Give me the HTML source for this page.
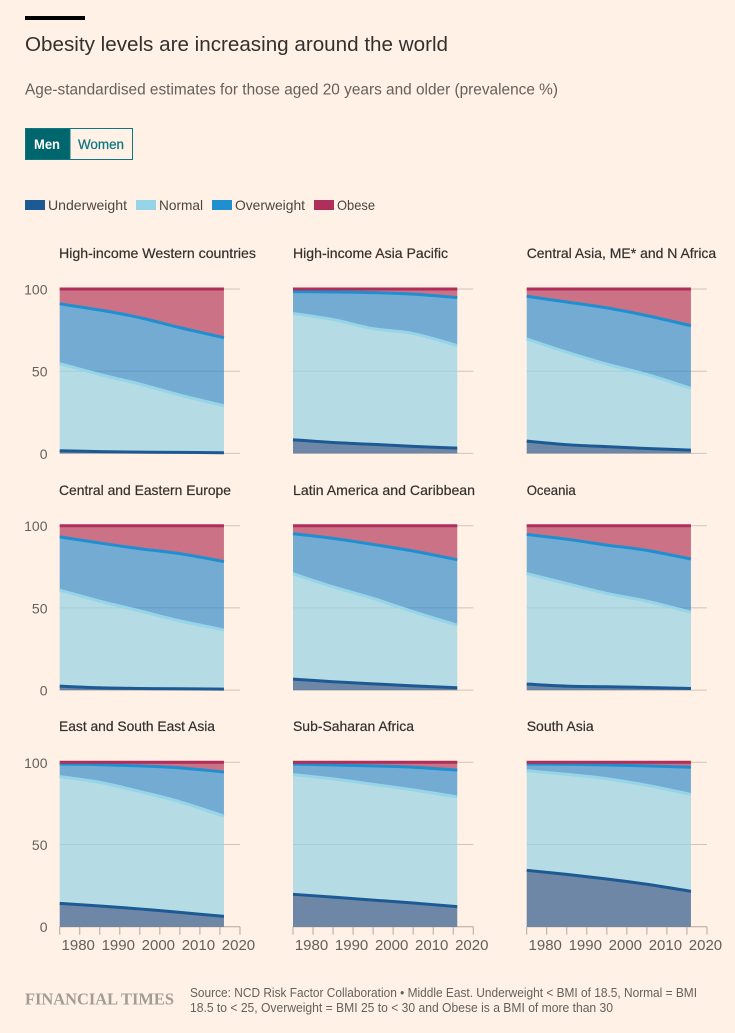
<!DOCTYPE html>
<html lang="en">
<head>
<meta charset="utf-8">
<title>Obesity levels are increasing around the world</title>
<style>
html,body{margin:0;padding:0;background:#fff1e5;}
svg{display:block;font-family:"Liberation Sans",sans-serif;}
.panel-title{font-size:14px;fill:#33302e;stroke:#33302e;stroke-width:.2px;}
.legend-label{font-size:14px;fill:#4a4643;}
</style>
</head>
<body>
<svg id="page" width="735" height="1033" viewBox="0 0 735 1033" xmlns="http://www.w3.org/2000/svg">
  <rect x="0" y="0" width="735" height="1033" fill="#fff1e5"/>
  <rect x="25" y="16" width="60" height="4" fill="#000"/>
  <text x="25" y="51" font-size="20" fill="#33302e" textLength="423" lengthAdjust="spacingAndGlyphs">Obesity levels are increasing around the world</text>
  <text x="25" y="94.5" font-size="15.5" fill="#66605c" textLength="533" lengthAdjust="spacingAndGlyphs">Age-standardised estimates for those aged 20 years and older (prevalence %)</text>

  <g>
    <g style="cursor:pointer">
      <rect x="25.5" y="128.5" width="44.5" height="31" fill="#00666e" stroke="#0d7680"/>
      <text x="34" y="149" font-size="14" font-weight="bold" fill="#fff" textLength="26" lengthAdjust="spacingAndGlyphs">Men</text>
    </g>
    <g style="cursor:pointer">
      <rect x="70" y="128.5" width="62.5" height="31" fill="none" stroke="#0d7680"/>
      <text x="78" y="149" font-size="14" fill="#0d7680" stroke="#0d7680" stroke-width=".25" textLength="46" lengthAdjust="spacingAndGlyphs">Women</text>
    </g>
  </g>

  <g>
    <g>
      <rect x="25" y="200" width="20" height="10" fill="#1d5a94"/>
      <text class="legend-label" x="48" y="210" textLength="79" lengthAdjust="spacingAndGlyphs">Underweight</text>
    </g>
    <g>
      <rect x="136" y="200" width="20" height="10" fill="#96d4e8"/>
      <text class="legend-label" x="159" y="210" textLength="44" lengthAdjust="spacingAndGlyphs">Normal</text>
    </g>
    <g>
      <rect x="212" y="200" width="20" height="10" fill="#1f8fd0"/>
      <text class="legend-label" x="235" y="210" textLength="70" lengthAdjust="spacingAndGlyphs">Overweight</text>
    </g>
    <g>
      <rect x="314" y="200" width="20" height="10" fill="#af2e5a"/>
      <text class="legend-label" x="337" y="210" textLength="38" lengthAdjust="spacingAndGlyphs">Obese</text>
    </g>
  </g>

  <g id="panel-0">
    <text class="panel-title" x="59" y="258" textLength="197" lengthAdjust="spacingAndGlyphs">High-income Western countries</text>
  </g>
  <g id="panel-1">
    <text class="panel-title" x="293" y="258" textLength="155" lengthAdjust="spacingAndGlyphs">High-income Asia Pacific</text>
  </g>
  <g id="panel-2">
    <text class="panel-title" x="526.7" y="258" textLength="189.5" lengthAdjust="spacingAndGlyphs">Central Asia, ME* and N Africa</text>
  </g>
  <g id="panel-3">
    <text class="panel-title" x="59" y="495" textLength="172" lengthAdjust="spacingAndGlyphs">Central and Eastern Europe</text>
  </g>
  <g id="panel-4">
    <text class="panel-title" x="293" y="495" textLength="182" lengthAdjust="spacingAndGlyphs">Latin America and Caribbean</text>
  </g>
  <g id="panel-5">
    <text class="panel-title" x="526.7" y="495" textLength="49" lengthAdjust="spacingAndGlyphs">Oceania</text>
  </g>
  <g id="panel-6">
    <text class="panel-title" x="59" y="731" textLength="156" lengthAdjust="spacingAndGlyphs">East and South East Asia</text>
  </g>
  <g id="panel-7">
    <text class="panel-title" x="293" y="731" textLength="121" lengthAdjust="spacingAndGlyphs">Sub-Saharan Africa</text>
  </g>
  <g id="panel-8">
    <text class="panel-title" x="526.7" y="731" textLength="67" lengthAdjust="spacingAndGlyphs">South Asia</text>
  </g>

  <text x="25" y="1004.5" font-family="'Liberation Serif',serif" font-weight="bold" font-size="16.5" fill="#a39c95" textLength="149" lengthAdjust="spacingAndGlyphs">FINANCIAL TIMES</text>
  <text x="190" y="997" font-size="12.5" fill="#66605c" textLength="507" lengthAdjust="spacingAndGlyphs">Source: NCD Risk Factor Collaboration • Middle East. Underweight &lt; BMI of 18.5, Normal = BMI</text>
  <text x="190" y="1012" font-size="12.5" fill="#66605c" textLength="423" lengthAdjust="spacingAndGlyphs">18.5 to &lt; 25, Overweight = BMI 25 to &lt; 30 and Obese is a BMI of more than 30</text>
</svg>

<script>
// Chart data: years sampled, then one row per region for each category (prevalence %).
const years = [1975, 1985, 1995, 2005, 2016];
const underweight = [
  [1.6, 1.1, 0.8, 0.6, 0.4],
  [8.3, 6.6, 5.5, 4.3, 3.2],
  [7.5, 5.3, 4.1, 3.0, 2.0],
  [2.4, 1.4, 1.0, 0.8, 0.6],
  [6.7, 5.1, 3.8, 2.6, 1.4],
  [3.7, 2.4, 2.0, 1.6, 1.0],
  [14.2, 12.6, 10.8, 8.7, 6.3],
  [19.7, 18.0, 16.2, 14.4, 12.2],
  [34.3, 31.8, 29.0, 25.8, 21.5]
];
const normal = [
  [53.0, 46.9, 41.4, 34.9, 28.6],
  [76.8, 74.8, 70.4, 68.6, 62.4],
  [62.1, 56.3, 50.2, 45.0, 37.6],
  [58.4, 52.7, 47.2, 41.3, 36.0],
  [64.1, 57.7, 52.0, 45.1, 38.1],
  [67.2, 62.4, 56.8, 52.5, 46.4],
  [77.1, 75.2, 71.4, 67.3, 61.0],
  [72.8, 71.9, 70.4, 68.8, 66.7],
  [60.6, 60.9, 61.0, 60.2, 59.0]
];
const overweight = [
  [36.4, 39.2, 40.4, 41.0, 41.4],
  [13.3, 16.8, 21.9, 24.0, 29.2],
  [26.0, 30.5, 34.2, 35.8, 38.1],
  [32.4, 35.4, 37.8, 40.9, 41.6],
  [24.3, 29.5, 32.8, 36.9, 39.8],
  [23.8, 27.0, 29.4, 30.9, 32.3],
  [7.7, 10.8, 15.6, 20.6, 26.8],
  [6.5, 8.5, 11.2, 13.8, 16.4],
  [4.1, 6.1, 8.4, 11.8, 16.5]
];
const obese = [
  [9.0, 12.8, 17.4, 23.5, 29.6],
  [1.6, 1.8, 2.2, 3.1, 5.2],
  [4.4, 7.9, 11.5, 16.2, 22.3],
  [6.8, 10.5, 14.0, 17.0, 21.8],
  [4.9, 7.7, 11.4, 15.4, 20.7],
  [5.3, 8.2, 11.8, 15.0, 20.3],
  [1.0, 1.4, 2.2, 3.4, 5.9],
  [1.0, 1.6, 2.2, 3.0, 4.7],
  [1.0, 1.2, 1.6, 2.2, 3.0]
];
const yTickValues = [0, 50, 100];
const xTickYears = [1975, 1980, 1985, 1990, 1995, 2000, 2005, 2010, 2015, 2020];
const xTickLabels = [1980, 1990, 2000, 2010, 2020];
const seriesNames = ['underweight', 'normal', 'overweight', 'obese'];
const seriesValues = [underweight, normal, overweight, obese];
const seriesLine = ['#1d5a94', '#96d4e8', '#1f8fd0', '#af2e5a'];
const seriesFill = ['#305a8b', '#96d2e4', '#388dcb', '#b53c60'];

const NS = 'http://www.w3.org/2000/svg';
const colLeft = [59.7, 293.0, 526.7];
const rowTop = [289.0, 525.7, 762.3];
const plotH = 164.4;
const yearPx = 4.006;

function xScale(year, col) {
  return colLeft[col] + (year - 1975) * yearPx;
}
function yScale(value, row) {
  return rowTop[row] + plotH - value / 100 * plotH;
}

// Smooth curve (Catmull-Rom segments) through a list of [x, y] pairs.
function curveSegments(pts) {
  let d = '';
  for (let i = 0; i < pts.length - 1; i++) {
    const p0 = pts[Math.max(i - 1, 0)];
    const p1 = pts[i];
    const p2 = pts[i + 1];
    const p3 = pts[Math.min(i + 2, pts.length - 1)];
    const c1x = p1[0] + (p2[0] - p0[0]) / 6;
    const c1y = p1[1] + (p2[1] - p0[1]) / 6;
    const c2x = p2[0] - (p3[0] - p1[0]) / 6;
    const c2y = p2[1] - (p3[1] - p1[1]) / 6;
    d += ' C' + c1x.toFixed(2) + ' ' + c1y.toFixed(2) + ' ' + c2x.toFixed(2) + ' ' + c2y.toFixed(2) + ' ' + p2[0].toFixed(2) + ' ' + p2[1].toFixed(2);
  }
  return d;
}

function drawPanel(p) {
  const col = p % 3;
  const row = Math.floor(p / 3);
  const host = document.getElementById('panel-' + p);

  yTickValues.forEach(function (v) {
    const y = yScale(v, row);
    const grid = document.createElementNS(NS, 'line');
    
    
    grid.setAttribute('x1', xScale(1975, col));
    grid.setAttribute('x2', xScale(2020, col));
    grid.setAttribute('y1', y);
    grid.setAttribute('y2', y);
    grid.setAttribute('stroke', row === 2 && v === 0 ? '#b3a89f' : '#cfc4ba');
    grid.setAttribute('stroke-width', '1');
    host.appendChild(grid);
    if (col === 0) {
      const label = document.createElementNS(NS, 'text');
      
      
      label.setAttribute('x', 47.5);
      label.setAttribute('y', y + 5.5);
      label.setAttribute('text-anchor', 'end');
      label.setAttribute('font-size', '14');
      label.setAttribute('fill', '#66605c');
      label.textContent = v;
      host.appendChild(label);
    }
  });

  let lower = years.map(function () { return 0; });
  const lineCurves = [];
  seriesValues.forEach(function (series, s) {
    const upper = series[p].map(function (v, i) { return lower[i] + v; });
    const topPts = years.map(function (yr, i) {
      return [xScale(yr, col), yScale(upper[i], row)];
    });
    const botPts = years.map(function (yr, i) {
      return [xScale(yr, col), yScale(lower[i], row)];
    }).reverse();
    const start = 'M' + topPts[0][0].toFixed(2) + ' ' + topPts[0][1].toFixed(2);
    const topCurve = start + curveSegments(topPts);

    const area = document.createElementNS(NS, 'path');
    
    
    area.setAttribute('d', topCurve + ' L' + botPts[0][0].toFixed(2) + ' ' + botPts[0][1].toFixed(2) + curveSegments(botPts) + ' Z');
    area.setAttribute('fill', seriesFill[s]);
    area.setAttribute('fill-opacity', '0.7');
    host.appendChild(area);

    lineCurves.push(topCurve);
    lower = upper;
  });

  lineCurves.forEach(function (curve, s) {
    const line = document.createElementNS(NS, 'path');
    
    
    line.setAttribute('d', curve);
    line.setAttribute('fill', 'none');
    line.setAttribute('stroke', seriesLine[s]);
    line.setAttribute('stroke-width', '3');
    line.setAttribute('stroke-linecap', 'butt');
    line.setAttribute('stroke-linejoin', 'round');
    host.appendChild(line);
  });

  if (row === 2) {
    const axisY = yScale(0, row);
    xTickYears.forEach(function (yr) {
      const tick = document.createElementNS(NS, 'line');
      
      
      tick.setAttribute('x1', xScale(yr, col));
      tick.setAttribute('x2', xScale(yr, col));
      tick.setAttribute('y1', axisY);
      tick.setAttribute('y2', axisY + 8);
      tick.setAttribute('stroke', '#b3a89f');
      tick.setAttribute('stroke-width', '1');
      host.appendChild(tick);
    });
    xTickLabels.forEach(function (yr) {
      const label = document.createElementNS(NS, 'text');
      
      
      label.setAttribute('x', xScale(yr, col) - 1.5);
      label.setAttribute('y', 950);
      label.setAttribute('text-anchor', 'middle');
      label.setAttribute('font-size', '15');
      label.setAttribute('fill', '#66605c');
      label.textContent = yr;
      host.appendChild(label);
    });
  }
}

for (let p = 0; p < underweight.length; p++) {
  drawPanel(p);
}
</script>
</body>
</html>
